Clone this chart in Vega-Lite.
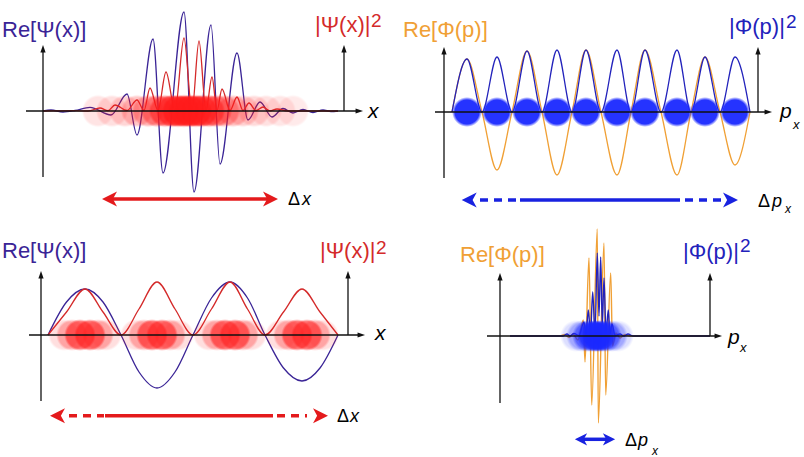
{
"$schema":"https://vega.github.io/schema/vega-lite/v6.json",
"background":"white",
"padding":0,
"autosize":{"type":"pad"},
"config":{"view":{"stroke":null},"text":{"font":"Liberation Sans"},"concat":{"spacing":0}},
"columns":2,
"spacing":0,
"bounds":"flush",
"resolve":{"scale":{"x":"independent","y":"independent","color":"independent","opacity":"independent"}},
"concat":[
{"width":402,"height":228,
"encoding":{
"x":{"field":"x","type":"quantitative","scale":{"domain":[-43,359],"nice":false,"zero":false},"axis":null},
"y":{"field":"y","type":"quantitative","scale":{"domain":[-117,111],"nice":false,"zero":false},"axis":null},
"color":{"field":"series","type":"nominal","scale":{"domain":["re","prob","ink"],"range":["#3a2496","#d42a2a","#000000"]},"legend":null}},
"layer":[
{"data":{"name":"tl_curve"},"mark":{"type":"line","interpolate":"monotone","strokeWidth":1.3}},
{"data":{"name":"tl_blob"},"mark":{"type":"circle","size":1050,"strokeWidth":0},"encoding":{"color":{"value":{"gradient":"radial","stops":[{"offset":0,"color":"#ff1a1a"},{"offset":0.85,"color":"#ff1a1a"},{"offset":1,"color":"rgba(255,26,26,0)"}]}},"opacity":{"field":"w","type":"quantitative","scale":{"domain":[0,1],"range":[0,1]},"legend":null}}},
{"data":{"name":"tl_geom"},"transform":[{"filter":{"field":"part","equal":"axis"}}],"mark":{"type":"rule","strokeWidth":1.3},"encoding":{"x2":{"field":"x2"},"y2":{"field":"y2"},"color":{"value":"#111111"}}},
{"data":{"name":"tl_head"},"transform":[{"filter":{"field":"dir","equal":"up"}}],"mark":{"type":"point","shape":"M0,-1L0.7,1L-0.7,1Z","filled":true,"size":56,"opacity":1,"strokeWidth":0},"encoding":{"color":{"value":"#111111"}}},
{"data":{"name":"tl_head"},"transform":[{"filter":{"field":"dir","equal":"rt"}}],"mark":{"type":"point","shape":"M1,0L-1,-0.7L-1,0.7Z","filled":true,"size":56,"opacity":1,"strokeWidth":0},"encoding":{"color":{"value":"#111111"}}},
{"data":{"name":"tl_geom"},"transform":[{"filter":{"field":"part","equal":"delta"}}],"mark":{"type":"rule","strokeWidth":3.5},"encoding":{"x2":{"field":"x2"},"y2":{"field":"y2"},"color":{"value":"#e41a1c"}}},
{"data":{"name":"tl_head"},"transform":[{"filter":{"field":"dir","equal":"dl"}}],"mark":{"type":"point","shape":"M-1,0L1,-1L0.45,0L1,1Z","filled":true,"size":225,"opacity":1,"strokeWidth":0},"encoding":{"color":{"value":"#e41a1c"}}},
{"data":{"name":"tl_head"},"transform":[{"filter":{"field":"dir","equal":"dr"}}],"mark":{"type":"point","shape":"M1,0L-1,-1L-0.45,0L-1,1Z","filled":true,"size":225,"opacity":1,"strokeWidth":0},"encoding":{"color":{"value":"#e41a1c"}}},
{"data":{"name":"tl_text"},"transform":[{"filter":{"field":"role","equal":"title"}}],"mark":{"type":"text","fontSize":22,"align":"left","baseline":"alphabetic"},"encoding":{"text":{"field":"text","type":"nominal"}}},
{"data":{"name":"tl_text"},"transform":[{"filter":{"field":"role","equal":"sup"}}],"mark":{"type":"text","fontSize":19,"align":"left","baseline":"alphabetic"},"encoding":{"text":{"field":"text","type":"nominal"}}},
{"data":{"name":"tl_text"},"transform":[{"filter":{"field":"role","equal":"var"}}],"mark":{"type":"text","fontSize":21,"fontStyle":"italic","align":"left","baseline":"alphabetic"},"encoding":{"text":{"field":"text","type":"nominal"}}},
{"data":{"name":"tl_text"},"transform":[{"filter":{"field":"role","equal":"delta"}}],"mark":{"type":"text","fontSize":18,"align":"left","baseline":"alphabetic"},"encoding":{"text":{"field":"text","type":"nominal"}}},
{"data":{"name":"tl_text"},"transform":[{"filter":{"field":"role","equal":"dvar"}}],"mark":{"type":"text","fontSize":18,"fontStyle":"italic","align":"left","baseline":"alphabetic"},"encoding":{"text":{"field":"text","type":"nominal"}}}
]},
{"width":402,"height":228,
"encoding":{
"x":{"field":"x","type":"quantitative","scale":{"domain":[-42,360],"nice":false,"zero":false},"axis":null},
"y":{"field":"y","type":"quantitative","scale":{"domain":[-116,112],"nice":false,"zero":false},"axis":null},
"color":{"field":"series","type":"nominal","scale":{"domain":["re","prob","ink"],"range":["#f0a035","#2222bb","#000000"]},"legend":null}},
"layer":[
{"data":{"name":"tr_curve"},"mark":{"type":"line","interpolate":"monotone","strokeWidth":1.3}},
{"data":{"name":"tr_blob"},"mark":{"type":"circle","size":900,"strokeWidth":0},"encoding":{"color":{"value":{"gradient":"radial","stops":[{"offset":0,"color":"#1a28ff"},{"offset":0.8,"color":"#1a28ff"},{"offset":1,"color":"rgba(26,40,255,0)"}]}},"opacity":{"field":"w","type":"quantitative","scale":{"domain":[0,1],"range":[0,1]},"legend":null}}},
{"data":{"name":"tr_geom"},"transform":[{"filter":{"field":"part","equal":"axis"}}],"mark":{"type":"rule","strokeWidth":1.3},"encoding":{"x2":{"field":"x2"},"y2":{"field":"y2"},"color":{"value":"#111111"}}},
{"data":{"name":"tr_head"},"transform":[{"filter":{"field":"dir","equal":"up"}}],"mark":{"type":"point","shape":"M0,-1L0.7,1L-0.7,1Z","filled":true,"size":56,"opacity":1,"strokeWidth":0},"encoding":{"color":{"value":"#111111"}}},
{"data":{"name":"tr_head"},"transform":[{"filter":{"field":"dir","equal":"rt"}}],"mark":{"type":"point","shape":"M1,0L-1,-0.7L-1,0.7Z","filled":true,"size":56,"opacity":1,"strokeWidth":0},"encoding":{"color":{"value":"#111111"}}},
{"data":{"name":"tr_geom"},"transform":[{"filter":{"field":"part","equal":"delta"}}],"mark":{"type":"rule","strokeWidth":3.5},"encoding":{"x2":{"field":"x2"},"y2":{"field":"y2"},"color":{"value":"#1822e0"}}},
{"data":{"name":"tr_geom"},"transform":[{"filter":{"field":"part","equal":"dash"}}],"mark":{"type":"rule","strokeWidth":3.5,"strokeDash":[8,6]},"encoding":{"x2":{"field":"x2"},"y2":{"field":"y2"},"color":{"value":"#1822e0"}}},
{"data":{"name":"tr_head"},"transform":[{"filter":{"field":"dir","equal":"dl"}}],"mark":{"type":"point","shape":"M-1,0L1,-1L0.45,0L1,1Z","filled":true,"size":225,"opacity":1,"strokeWidth":0},"encoding":{"color":{"value":"#1822e0"}}},
{"data":{"name":"tr_head"},"transform":[{"filter":{"field":"dir","equal":"dr"}}],"mark":{"type":"point","shape":"M1,0L-1,-1L-0.45,0L-1,1Z","filled":true,"size":225,"opacity":1,"strokeWidth":0},"encoding":{"color":{"value":"#1822e0"}}},
{"data":{"name":"tr_text"},"transform":[{"filter":{"field":"role","equal":"title"}}],"mark":{"type":"text","fontSize":22,"align":"left","baseline":"alphabetic"},"encoding":{"text":{"field":"text","type":"nominal"}}},
{"data":{"name":"tr_text"},"transform":[{"filter":{"field":"role","equal":"sup"}}],"mark":{"type":"text","fontSize":19,"align":"left","baseline":"alphabetic"},"encoding":{"text":{"field":"text","type":"nominal"}}},
{"data":{"name":"tr_text"},"transform":[{"filter":{"field":"role","equal":"var"}}],"mark":{"type":"text","fontSize":21,"fontStyle":"italic","align":"left","baseline":"alphabetic"},"encoding":{"text":{"field":"text","type":"nominal"}}},
{"data":{"name":"tr_text"},"transform":[{"filter":{"field":"role","equal":"sub"}}],"mark":{"type":"text","fontSize":13,"fontStyle":"italic","align":"left","baseline":"alphabetic"},"encoding":{"text":{"field":"text","type":"nominal"}}},
{"data":{"name":"tr_text"},"transform":[{"filter":{"field":"role","equal":"delta"}}],"mark":{"type":"text","fontSize":18,"align":"left","baseline":"alphabetic"},"encoding":{"text":{"field":"text","type":"nominal"}}},
{"data":{"name":"tr_text"},"transform":[{"filter":{"field":"role","equal":"dvar"}}],"mark":{"type":"text","fontSize":18,"fontStyle":"italic","align":"left","baseline":"alphabetic"},"encoding":{"text":{"field":"text","type":"nominal"}}},
{"data":{"name":"tr_text"},"transform":[{"filter":{"field":"role","equal":"dsub"}}],"mark":{"type":"text","fontSize":12,"fontStyle":"italic","align":"left","baseline":"alphabetic"},"encoding":{"text":{"field":"text","type":"nominal"}}}
]},
{"width":402,"height":229,
"encoding":{
"x":{"field":"x","type":"quantitative","scale":{"domain":[-41,361],"nice":false,"zero":false},"axis":null},
"y":{"field":"y","type":"quantitative","scale":{"domain":[-122,107],"nice":false,"zero":false},"axis":null},
"color":{"field":"series","type":"nominal","scale":{"domain":["re","prob","ink"],"range":["#3a2496","#d42a2a","#000000"]},"legend":null}},
"layer":[
{"data":{"name":"bl_curve"},"mark":{"type":"line","interpolate":"monotone","strokeWidth":1.3}},
{"data":{"name":"bl_blob"},"mark":{"type":"circle","size":1000,"strokeWidth":0},"encoding":{"color":{"value":{"gradient":"radial","stops":[{"offset":0,"color":"#ff1a1a"},{"offset":0.85,"color":"#ff1a1a"},{"offset":1,"color":"rgba(255,26,26,0)"}]}},"opacity":{"field":"w","type":"quantitative","scale":{"domain":[0,1],"range":[0,1]},"legend":null}}},
{"data":{"name":"bl_geom"},"transform":[{"filter":{"field":"part","equal":"axis"}}],"mark":{"type":"rule","strokeWidth":1.3},"encoding":{"x2":{"field":"x2"},"y2":{"field":"y2"},"color":{"value":"#111111"}}},
{"data":{"name":"bl_head"},"transform":[{"filter":{"field":"dir","equal":"up"}}],"mark":{"type":"point","shape":"M0,-1L0.7,1L-0.7,1Z","filled":true,"size":56,"opacity":1,"strokeWidth":0},"encoding":{"color":{"value":"#111111"}}},
{"data":{"name":"bl_head"},"transform":[{"filter":{"field":"dir","equal":"rt"}}],"mark":{"type":"point","shape":"M1,0L-1,-0.7L-1,0.7Z","filled":true,"size":56,"opacity":1,"strokeWidth":0},"encoding":{"color":{"value":"#111111"}}},
{"data":{"name":"bl_geom"},"transform":[{"filter":{"field":"part","equal":"delta"}}],"mark":{"type":"rule","strokeWidth":3.5},"encoding":{"x2":{"field":"x2"},"y2":{"field":"y2"},"color":{"value":"#e41a1c"}}},
{"data":{"name":"bl_geom"},"transform":[{"filter":{"field":"part","equal":"dash"}}],"mark":{"type":"rule","strokeWidth":3.5,"strokeDash":[8,6]},"encoding":{"x2":{"field":"x2"},"y2":{"field":"y2"},"color":{"value":"#e41a1c"}}},
{"data":{"name":"bl_head"},"transform":[{"filter":{"field":"dir","equal":"dl"}}],"mark":{"type":"point","shape":"M-1,0L1,-1L0.45,0L1,1Z","filled":true,"size":225,"opacity":1,"strokeWidth":0},"encoding":{"color":{"value":"#e41a1c"}}},
{"data":{"name":"bl_head"},"transform":[{"filter":{"field":"dir","equal":"dr"}}],"mark":{"type":"point","shape":"M1,0L-1,-1L-0.45,0L-1,1Z","filled":true,"size":225,"opacity":1,"strokeWidth":0},"encoding":{"color":{"value":"#e41a1c"}}},
{"data":{"name":"bl_text"},"transform":[{"filter":{"field":"role","equal":"title"}}],"mark":{"type":"text","fontSize":22,"align":"left","baseline":"alphabetic"},"encoding":{"text":{"field":"text","type":"nominal"}}},
{"data":{"name":"bl_text"},"transform":[{"filter":{"field":"role","equal":"sup"}}],"mark":{"type":"text","fontSize":19,"align":"left","baseline":"alphabetic"},"encoding":{"text":{"field":"text","type":"nominal"}}},
{"data":{"name":"bl_text"},"transform":[{"filter":{"field":"role","equal":"var"}}],"mark":{"type":"text","fontSize":21,"fontStyle":"italic","align":"left","baseline":"alphabetic"},"encoding":{"text":{"field":"text","type":"nominal"}}},
{"data":{"name":"bl_text"},"transform":[{"filter":{"field":"role","equal":"delta"}}],"mark":{"type":"text","fontSize":18,"align":"left","baseline":"alphabetic"},"encoding":{"text":{"field":"text","type":"nominal"}}},
{"data":{"name":"bl_text"},"transform":[{"filter":{"field":"role","equal":"dvar"}}],"mark":{"type":"text","fontSize":18,"fontStyle":"italic","align":"left","baseline":"alphabetic"},"encoding":{"text":{"field":"text","type":"nominal"}}}
]},
{"width":402,"height":229,
"encoding":{
"x":{"field":"x","type":"quantitative","scale":{"domain":[-98,304],"nice":false,"zero":false},"axis":null},
"y":{"field":"y","type":"quantitative","scale":{"domain":[-121,108],"nice":false,"zero":false},"axis":null},
"color":{"field":"series","type":"nominal","scale":{"domain":["re","prob","ink"],"range":["#f0a035","#2222bb","#000000"]},"legend":null}},
"layer":[
{"data":{"name":"br_curve"},"mark":{"type":"line","interpolate":"monotone","strokeWidth":1.4}},
{"data":{"name":"br_blob"},"mark":{"type":"circle","size":1000,"strokeWidth":0},"encoding":{"color":{"value":{"gradient":"radial","stops":[{"offset":0,"color":"#1a28ff"},{"offset":0.8,"color":"#1a28ff"},{"offset":1,"color":"rgba(26,40,255,0)"}]}},"opacity":{"field":"w","type":"quantitative","scale":{"domain":[0,1],"range":[0,1]},"legend":null}}},
{"data":{"name":"br_geom"},"transform":[{"filter":{"field":"part","equal":"axis"}}],"mark":{"type":"rule","strokeWidth":1.3},"encoding":{"x2":{"field":"x2"},"y2":{"field":"y2"},"color":{"value":"#111111"}}},
{"data":{"name":"br_head"},"transform":[{"filter":{"field":"dir","equal":"up"}}],"mark":{"type":"point","shape":"M0,-1L0.7,1L-0.7,1Z","filled":true,"size":56,"opacity":1,"strokeWidth":0},"encoding":{"color":{"value":"#111111"}}},
{"data":{"name":"br_head"},"transform":[{"filter":{"field":"dir","equal":"rt"}}],"mark":{"type":"point","shape":"M1,0L-1,-0.7L-1,0.7Z","filled":true,"size":56,"opacity":1,"strokeWidth":0},"encoding":{"color":{"value":"#111111"}}},
{"data":{"name":"br_geom"},"transform":[{"filter":{"field":"part","equal":"delta"}}],"mark":{"type":"rule","strokeWidth":3.5},"encoding":{"x2":{"field":"x2"},"y2":{"field":"y2"},"color":{"value":"#1822e0"}}},
{"data":{"name":"br_head"},"transform":[{"filter":{"field":"dir","equal":"dl"}}],"mark":{"type":"point","shape":"M-1,0L1,-1L0.45,0L1,1Z","filled":true,"size":150,"opacity":1,"strokeWidth":0},"encoding":{"color":{"value":"#1822e0"}}},
{"data":{"name":"br_head"},"transform":[{"filter":{"field":"dir","equal":"dr"}}],"mark":{"type":"point","shape":"M1,0L-1,-1L-0.45,0L-1,1Z","filled":true,"size":150,"opacity":1,"strokeWidth":0},"encoding":{"color":{"value":"#1822e0"}}},
{"data":{"name":"br_text"},"transform":[{"filter":{"field":"role","equal":"title"}}],"mark":{"type":"text","fontSize":22,"align":"left","baseline":"alphabetic"},"encoding":{"text":{"field":"text","type":"nominal"}}},
{"data":{"name":"br_text"},"transform":[{"filter":{"field":"role","equal":"sup"}}],"mark":{"type":"text","fontSize":19,"align":"left","baseline":"alphabetic"},"encoding":{"text":{"field":"text","type":"nominal"}}},
{"data":{"name":"br_text"},"transform":[{"filter":{"field":"role","equal":"var"}}],"mark":{"type":"text","fontSize":21,"fontStyle":"italic","align":"left","baseline":"alphabetic"},"encoding":{"text":{"field":"text","type":"nominal"}}},
{"data":{"name":"br_text"},"transform":[{"filter":{"field":"role","equal":"sub"}}],"mark":{"type":"text","fontSize":13,"fontStyle":"italic","align":"left","baseline":"alphabetic"},"encoding":{"text":{"field":"text","type":"nominal"}}},
{"data":{"name":"br_text"},"transform":[{"filter":{"field":"role","equal":"delta"}}],"mark":{"type":"text","fontSize":18,"align":"left","baseline":"alphabetic"},"encoding":{"text":{"field":"text","type":"nominal"}}},
{"data":{"name":"br_text"},"transform":[{"filter":{"field":"role","equal":"dvar"}}],"mark":{"type":"text","fontSize":18,"fontStyle":"italic","align":"left","baseline":"alphabetic"},"encoding":{"text":{"field":"text","type":"nominal"}}},
{"data":{"name":"br_text"},"transform":[{"filter":{"field":"role","equal":"dsub"}}],"mark":{"type":"text","fontSize":12,"fontStyle":"italic","align":"left","baseline":"alphabetic"},"encoding":{"text":{"field":"text","type":"nominal"}}}
]}
],
"datasets":{
"tl_curve":[
{"series":"re","x":0,"y":0},{"series":"re","x":8,"y":1},{"series":"re","x":20,"y":-1},{"series":"re","x":32,"y":0.5},{"series":"re","x":47,"y":3.7},{"series":"re","x":68,"y":-4},{"series":"re","x":84,"y":17},{"series":"re","x":94,"y":-24},{"series":"re","x":110,"y":72},{"series":"re","x":120,"y":-62},{"series":"re","x":141,"y":99},{"series":"re","x":151,"y":-81},{"series":"re","x":168,"y":86},{"series":"re","x":177,"y":-53},{"series":"re","x":194,"y":58},{"series":"re","x":205,"y":-9},{"series":"re","x":217,"y":9},{"series":"re","x":229,"y":-6},{"series":"re","x":240,"y":2.5},{"series":"re","x":250,"y":-2},{"series":"re","x":260,"y":1.5},{"series":"re","x":270,"y":-1.5},{"series":"re","x":280,"y":1},{"series":"re","x":288,"y":-0.5},{"series":"re","x":295,"y":0},
{"series":"prob","x":0,"y":0},{"series":"prob","x":30,"y":0.3},{"series":"prob","x":45,"y":0},{"series":"prob","x":57,"y":3},{"series":"prob","x":65,"y":0.3},{"series":"prob","x":72,"y":6},{"series":"prob","x":84,"y":0.5},{"series":"prob","x":94,"y":11},{"series":"prob","x":101,"y":0.5},{"series":"prob","x":107,"y":23},{"series":"prob","x":115,"y":0.5},{"series":"prob","x":123,"y":39},{"series":"prob","x":132,"y":0.5},{"series":"prob","x":141,"y":73},{"series":"prob","x":149,"y":0.5},{"series":"prob","x":156,"y":70},{"series":"prob","x":163,"y":0.5},{"series":"prob","x":169,"y":34},{"series":"prob","x":174,"y":0.5},{"series":"prob","x":179,"y":22},{"series":"prob","x":187,"y":0.5},{"series":"prob","x":194,"y":14},{"series":"prob","x":200,"y":0.5},{"series":"prob","x":206,"y":8},{"series":"prob","x":213,"y":0.3},{"series":"prob","x":220,"y":4},{"series":"prob","x":227,"y":0.2},{"series":"prob","x":234,"y":2},{"series":"prob","x":245,"y":0},{"series":"prob","x":295,"y":0}
],
"tl_blob":[
{"x":55,"y":0,"w":0.12},{"x":69,"y":0,"w":0.14},{"x":82,"y":0,"w":0.18},{"x":94,"y":0,"w":0.24},{"x":105,"y":0,"w":0.32},{"x":114,"y":0,"w":0.42},{"x":122,"y":0,"w":0.55},{"x":129,"y":0,"w":0.65},{"x":135,"y":0,"w":0.72},{"x":141,"y":0,"w":0.78},{"x":147,"y":0,"w":0.78},{"x":153,"y":0,"w":0.72},{"x":159,"y":0,"w":0.65},{"x":166,"y":0,"w":0.55},{"x":173,"y":0,"w":0.45},{"x":181,"y":0,"w":0.35},{"x":190,"y":0,"w":0.27},{"x":200,"y":0,"w":0.2},{"x":211,"y":0,"w":0.16},{"x":223,"y":0,"w":0.13},{"x":237,"y":0,"w":0.11},{"x":250,"y":0,"w":0.09}
],
"tl_geom":[
{"part":"axis","x":0,"y":-66,"x2":0,"y2":62},{"part":"axis","x":-17,"y":0,"x2":316,"y2":0},{"part":"axis","x":301,"y":0,"x2":301,"y2":62},
{"part":"delta","x":66,"y":-88,"x2":228,"y2":-88}
],
"tl_head":[
{"dir":"up","x":0,"y":62.3},{"dir":"up","x":301,"y":62.3},{"dir":"rt","x":316.3,"y":0},{"dir":"dl","x":66.5,"y":-88},{"dir":"dr","x":227.5,"y":-88}
],
"tl_text":[
{"text":"Re[Ψ(x)]","role":"title","series":"re","x":-41,"y":74},
{"text":"|Ψ(x)|","role":"title","series":"prob","x":272,"y":79},
{"text":"2","role":"sup","series":"prob","x":328,"y":84},
{"text":"x","role":"var","series":"ink","x":325,"y":-7},
{"text":"Δ","role":"delta","series":"ink","x":245,"y":-93.5},
{"text":"x","role":"dvar","series":"ink","x":259,"y":-93.5}
],
"tr_curve":[
{"series":"re","x":8,"y":0},{"series":"re","x":23,"y":53},{"series":"re","x":38,"y":0},{"series":"re","x":53,"y":-58},{"series":"re","x":68,"y":0},{"series":"re","x":83,"y":61},{"series":"re","x":98,"y":0},{"series":"re","x":113,"y":-63},{"series":"re","x":128,"y":0},{"series":"re","x":142,"y":62},{"series":"re","x":157,"y":0},{"series":"re","x":173,"y":-63},{"series":"re","x":187,"y":0},{"series":"re","x":201,"y":62},{"series":"re","x":217,"y":0},{"series":"re","x":233,"y":-63},{"series":"re","x":247,"y":0},{"series":"re","x":261,"y":55},{"series":"re","x":276,"y":0},{"series":"re","x":291,"y":-53},{"series":"re","x":306,"y":0},
{"series":"prob","x":8,"y":0},{"series":"prob","x":23,"y":53},{"series":"prob","x":38,"y":0},{"series":"prob","x":53,"y":55},{"series":"prob","x":68,"y":0},{"series":"prob","x":83,"y":61},{"series":"prob","x":98,"y":0},{"series":"prob","x":113,"y":62},{"series":"prob","x":128,"y":0},{"series":"prob","x":142,"y":62},{"series":"prob","x":157,"y":0},{"series":"prob","x":173,"y":62},{"series":"prob","x":187,"y":0},{"series":"prob","x":201,"y":62},{"series":"prob","x":217,"y":0},{"series":"prob","x":233,"y":62},{"series":"prob","x":247,"y":0},{"series":"prob","x":261,"y":55},{"series":"prob","x":276,"y":0},{"series":"prob","x":291,"y":55},{"series":"prob","x":306,"y":0}
],
"tr_blob":[
{"x":23,"y":0,"w":0.95},{"x":53,"y":0,"w":0.95},{"x":83,"y":0,"w":0.95},{"x":113,"y":0,"w":0.95},{"x":142,"y":0,"w":0.95},{"x":173,"y":0,"w":0.95},{"x":201,"y":0,"w":0.95},{"x":233,"y":0,"w":0.95},{"x":261,"y":0,"w":0.95},{"x":291,"y":0,"w":0.95}
],
"tr_geom":[
{"part":"axis","x":0,"y":-66,"x2":0,"y2":61},{"part":"axis","x":-9,"y":0,"x2":324,"y2":0},{"part":"axis","x":314,"y":0,"x2":314,"y2":61},
{"part":"delta","x":76,"y":-88,"x2":236,"y2":-88},
{"part":"dash","x":36,"y":-88,"x2":72,"y2":-88},{"part":"dash","x":241,"y":-88,"x2":277,"y2":-88}
],
"tr_head":[
{"dir":"up","x":0,"y":61.3},{"dir":"up","x":314,"y":61.3},{"dir":"rt","x":324.3,"y":0},{"dir":"dl","x":25.2,"y":-88},{"dir":"dr","x":286.5,"y":-88}
],
"tr_text":[
{"text":"Re[Φ(p)]","role":"title","series":"re","x":-41,"y":75},
{"text":"|Φ(p)|","role":"title","series":"prob","x":285,"y":78},
{"text":"2","role":"sup","series":"prob","x":342,"y":84},
{"text":"p","role":"var","series":"ink","x":336,"y":-5.7},
{"text":"x","role":"sub","series":"ink","x":349,"y":-16.5},
{"text":"Δ","role":"delta","series":"ink","x":314,"y":-94.7},
{"text":"p","role":"dvar","series":"ink","x":328,"y":-94.7},
{"text":"x","role":"dsub","series":"ink","x":341,"y":-101.3}
],
"bl_curve":[
{"series":"re","x":7,"y":0},{"series":"re","x":25.5,"y":33},{"series":"re","x":44,"y":46},{"series":"re","x":62,"y":33},{"series":"re","x":80,"y":0},{"series":"re","x":98,"y":-37},{"series":"re","x":116,"y":-53},{"series":"re","x":134,"y":-37},{"series":"re","x":152,"y":0},{"series":"re","x":170.5,"y":37},{"series":"re","x":189,"y":53},{"series":"re","x":206.5,"y":37},{"series":"re","x":224,"y":0},{"series":"re","x":242.5,"y":-33},{"series":"re","x":261,"y":-46},{"series":"re","x":279,"y":-33},{"series":"re","x":297,"y":0},
{"series":"prob","x":7,"y":0},{"series":"prob","x":25.5,"y":23},{"series":"prob","x":44,"y":46},{"series":"prob","x":62,"y":23},{"series":"prob","x":80,"y":0},{"series":"prob","x":98,"y":26},{"series":"prob","x":116,"y":53},{"series":"prob","x":134,"y":26},{"series":"prob","x":152,"y":0},{"series":"prob","x":170.5,"y":26},{"series":"prob","x":189,"y":53},{"series":"prob","x":206.5,"y":26},{"series":"prob","x":224,"y":0},{"series":"prob","x":242.5,"y":23},{"series":"prob","x":261,"y":46},{"series":"prob","x":279,"y":23},{"series":"prob","x":297,"y":0}
],
"bl_blob":[
{"x":23,"y":0,"w":0.14},{"x":31,"y":0,"w":0.3},{"x":39,"y":0,"w":0.6},{"x":49,"y":0,"w":0.6},{"x":57,"y":0,"w":0.3},{"x":65,"y":0,"w":0.14},
{"x":95,"y":0,"w":0.14},{"x":103,"y":0,"w":0.3},{"x":111,"y":0,"w":0.6},{"x":121,"y":0,"w":0.6},{"x":129,"y":0,"w":0.3},{"x":137,"y":0,"w":0.14},
{"x":168,"y":0,"w":0.14},{"x":176,"y":0,"w":0.3},{"x":184,"y":0,"w":0.6},{"x":194,"y":0,"w":0.6},{"x":202,"y":0,"w":0.3},{"x":210,"y":0,"w":0.14},
{"x":240,"y":0,"w":0.14},{"x":248,"y":0,"w":0.3},{"x":256,"y":0,"w":0.6},{"x":266,"y":0,"w":0.6},{"x":274,"y":0,"w":0.3},{"x":282,"y":0,"w":0.14}
],
"bl_geom":[
{"part":"axis","x":0,"y":-66,"x2":0,"y2":60},{"part":"axis","x":-12,"y":0,"x2":320,"y2":0},{"part":"axis","x":307,"y":0,"x2":307,"y2":60},
{"part":"delta","x":64,"y":-80.7,"x2":232,"y2":-80.7},
{"part":"dash","x":28,"y":-80.7,"x2":63,"y2":-80.7},{"part":"dash","x":236,"y":-80.7,"x2":266,"y2":-80.7}
],
"bl_head":[
{"dir":"up","x":0,"y":60.3},{"dir":"up","x":307,"y":60.3},{"dir":"rt","x":320.3,"y":0},{"dir":"dl","x":16.5,"y":-80.7},{"dir":"dr","x":279.5,"y":-80.7}
],
"bl_text":[
{"text":"Re[Ψ(x)]","role":"title","series":"re","x":-39,"y":76.6},
{"text":"|Ψ(x)|","role":"title","series":"prob","x":279,"y":76.6},
{"text":"2","role":"sup","series":"prob","x":335,"y":81},
{"text":"x","role":"var","series":"ink","x":334,"y":-5},
{"text":"Δ","role":"delta","series":"ink","x":296,"y":-86.7},
{"text":"x","role":"dvar","series":"ink","x":309,"y":-86.7}
],
"br_curve":[
{"series":"re","x":10,"y":0},{"series":"re","x":60,"y":0},{"series":"re","x":65,"y":1.5},{"series":"re","x":69,"y":-1.5},{"series":"re","x":73,"y":2},{"series":"re","x":78,"y":-4},{"series":"re","x":83.3,"y":16},{"series":"re","x":85,"y":-26},{"series":"re","x":89,"y":78},{"series":"re","x":91.7,"y":-69},{"series":"re","x":97.3,"y":107},{"series":"re","x":98.3,"y":-87},{"series":"re","x":104,"y":93},{"series":"re","x":105.7,"y":-59},{"series":"re","x":110.7,"y":63},{"series":"re","x":112.5,"y":-10},{"series":"re","x":116,"y":3},{"series":"re","x":120,"y":-2},{"series":"re","x":125,"y":1.5},{"series":"re","x":130,"y":0},{"series":"re","x":210,"y":0},
{"series":"prob","x":10,"y":0},{"series":"prob","x":63,"y":0},{"series":"prob","x":67,"y":2},{"series":"prob","x":70,"y":0},{"series":"prob","x":74,"y":2.5},{"series":"prob","x":79,"y":0.5},{"series":"prob","x":84,"y":14},{"series":"prob","x":86,"y":1},{"series":"prob","x":88.3,"y":26},{"series":"prob","x":90.5,"y":1},{"series":"prob","x":92.7,"y":44},{"series":"prob","x":95,"y":2},{"series":"prob","x":97.3,"y":83},{"series":"prob","x":99,"y":20},{"series":"prob","x":100.7,"y":79},{"series":"prob","x":102.3,"y":10},{"series":"prob","x":104,"y":58},{"series":"prob","x":106,"y":3},{"series":"prob","x":108.3,"y":26},{"series":"prob","x":110,"y":2},{"series":"prob","x":112,"y":12},{"series":"prob","x":115,"y":0.5},{"series":"prob","x":120,"y":2},{"series":"prob","x":124,"y":0},{"series":"prob","x":128,"y":2},{"series":"prob","x":133,"y":0},{"series":"prob","x":210,"y":0}
],
"br_blob":[
{"x":76,"y":0,"w":0.15},{"x":82,"y":0,"w":0.3},{"x":88,"y":0,"w":0.55},{"x":93,"y":0,"w":0.75},{"x":97,"y":0,"w":0.85},{"x":101,"y":0,"w":0.75},{"x":106,"y":0,"w":0.55},{"x":112,"y":0,"w":0.3},{"x":118,"y":0,"w":0.15}
],
"br_geom":[
{"part":"axis","x":0,"y":-67,"x2":0,"y2":59},{"part":"axis","x":-13,"y":0,"x2":218,"y2":0},{"part":"axis","x":210,"y":0,"x2":210,"y2":59},
{"part":"delta","x":81,"y":-103.3,"x2":109,"y2":-103.3}
],
"br_head":[
{"dir":"up","x":0,"y":59.3},{"dir":"up","x":210,"y":59.3},{"dir":"rt","x":218.3,"y":0},{"dir":"dl","x":81,"y":-103.3},{"dir":"dr","x":109,"y":-103.3}
],
"br_text":[
{"text":"Re[Φ(p)]","role":"title","series":"re","x":-40,"y":74.3},
{"text":"|Φ(p)|","role":"title","series":"prob","x":183,"y":77.5},
{"text":"2","role":"sup","series":"prob","x":240,"y":84},
{"text":"p","role":"var","series":"ink","x":228,"y":-8},
{"text":"x","role":"sub","series":"ink","x":240,"y":-16},
{"text":"Δ","role":"delta","series":"ink","x":125,"y":-110},
{"text":"p","role":"dvar","series":"ink","x":138,"y":-110},
{"text":"x","role":"dsub","series":"ink","x":152,"y":-119}
]
}
}
